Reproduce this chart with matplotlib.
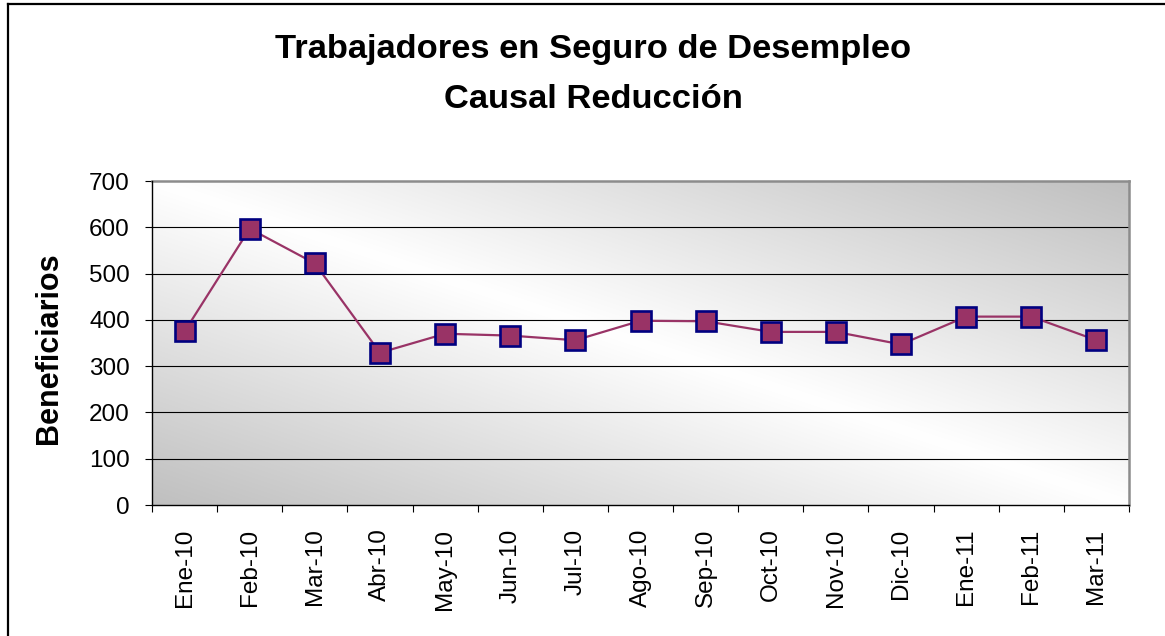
import numpy as np
import matplotlib
matplotlib.use("Agg")
import matplotlib.pyplot as plt
from matplotlib.lines import Line2D

months = ["Ene-10", "Feb-10", "Mar-10", "Abr-10", "May-10", "Jun-10", "Jul-10",
          "Ago-10", "Sep-10", "Oct-10", "Nov-10", "Dic-10", "Ene-11", "Feb-11", "Mar-11"]
beneficiarios = [375, 597, 522, 329, 370, 366, 356, 398, 397, 374, 374, 347, 407, 407, 356]
y_ticks = [0, 100, 200, 300, 400, 500, 600, 700]

title_line1 = "Trabajadores en Seguro de Desempleo"
title_line2 = "Causal Reducción"
y_label = "Beneficiarios"

plt.rcParams['font.family'] = ['Liberation Sans', 'DejaVu Sans']

W, H = 1165, 636
fig = plt.figure(figsize=(W / 100, H / 100), dpi=100)
fig.patch.set_facecolor("white")

ax = fig.add_axes([152 / W, 1 - 505 / H, (1129 - 152) / W, (505 - 181) / H])

# gradient background
nx, ny = 400, 200
u = np.linspace(0, 1, nx)[None, :]
v = np.linspace(0, 1, ny)[:, None]
g = 1 - 0.25 * np.abs(u - v)
img = np.dstack([g, g, g])
ax.imshow(img, extent=[0, 1, 0, 1], transform=ax.transAxes, aspect="auto",
          zorder=0, interpolation="bilinear", origin="upper")

x = np.arange(len(months))
ax.set_xlim(-0.5, len(months) - 0.5)
ax.set_ylim(0, 700)

for yt in y_ticks[1:-1]:
    ax.axhline(yt, color="black", lw=0.8, zorder=1)

ax.plot(x, beneficiarios, color="#993366", lw=1.6, marker="s", markersize=14.2,
        markerfacecolor="#993366", markeredgecolor="#000080", markeredgewidth=1.9,
        zorder=3, clip_on=False)

ax.set_yticks(y_ticks)
ax.set_yticklabels([str(t) for t in y_ticks], fontsize=17.5)
ax.set_xticks(x)
ax.set_xticklabels(months, rotation=90, fontsize=17.5)
ax.set_xticks(np.arange(-0.5, len(months)), minor=True)
ax.tick_params(axis="x", which="major", length=0, pad=17)
ax.tick_params(axis="x", which="minor", length=5, width=0.8, color="black")
ax.tick_params(axis="y", which="major", length=5, width=0.8, pad=11, color="black")

for side in ["left", "bottom"]:
    ax.spines[side].set_color("black")
    ax.spines[side].set_linewidth(1.0)
    ax.spines[side].set_zorder(4)
for side in ["top", "right"]:
    ax.spines[side].set_color("#8c8c8c")
    ax.spines[side].set_linewidth(1.8)

ax.set_ylabel(y_label, fontsize=22, fontweight="bold")
ax.yaxis.set_label_coords((64 - 152) / 977, (505 - 348) / 324)

fig.text(593.5 / W, 1 - 58 / H, title_line1, ha="center", va="baseline",
         fontsize=24.8, fontweight="bold")
fig.text(593.5 / W, 1 - 108 / H, title_line2, ha="center", va="baseline",
         fontsize=24.8, fontweight="bold")

# outer border (top and left visible)
fig.add_artist(Line2D([8 / W, 8 / W], [0, 1 - 4 / H], transform=fig.transFigure,
                      color="black", lw=1.6))
fig.add_artist(Line2D([8 / W, 1], [1 - 4 / H, 1 - 4 / H], transform=fig.transFigure,
                      color="black", lw=1.6))

fig.savefig("out.png", dpi=100)
